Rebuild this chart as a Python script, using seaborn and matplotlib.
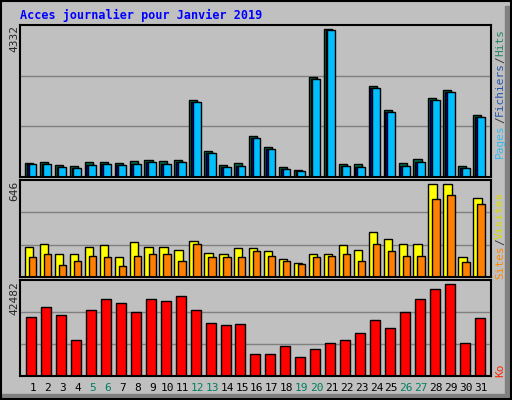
import matplotlib
matplotlib.use("Agg")
import matplotlib.pyplot as plt
import seaborn as sns
import numpy as np
from matplotlib.patches import Rectangle

days = [str(d) for d in range(1, 32)]
weekend = ["5", "6", "12", "13", "19", "20", "26", "27"]
hits = [411, 440, 354, 326, 440, 440, 411, 468, 497, 468, 497, 2190, 754, 354, 411, 1182,
        868, 297, 211, 2839, 4210, 383, 383, 2582, 1896, 411, 525, 2239, 2468, 326, 1754]
pages = [382, 383, 297, 268, 354, 383, 354, 383, 440, 383, 440, 2124, 697, 297, 326, 1125,
         811, 240, 183, 2782, 4180, 326, 297, 2525, 1839, 326, 440, 2182, 2411, 268, 1697]
files = pages
visits = [203, 223, 156, 156, 203, 210, 130, 230, 203, 203, 183, 243, 163, 156, 190, 190,
          170, 123, 96, 150, 150, 210, 183, 297, 250, 223, 223, 618, 618, 136, 525]
sites = [136, 156, 83, 109, 143, 130, 76, 143, 150, 150, 109, 217, 136, 130, 136, 172,
         143, 109, 89, 136, 143, 150, 109, 223, 176, 143, 143, 518, 545, 103, 484]
ko = [25900, 30340, 26790, 16130, 29010, 33890, 32120, 28120, 33890, 33000, 35220, 29010,
      23240, 22350, 22790, 9920, 9920, 13470, 8580, 12140, 14800, 16130, 19240, 24570,
      21460, 28120, 33890, 38330, 40550, 14800, 25460]
max_hits, max_visits, max_ko = 4332, 646, 42482

sns.set_style("white")
mono = "DejaVu Sans Mono"
W, H = 512, 400
fig = plt.figure(figsize=(5.12, 4.0), dpi=100, facecolor="#c0c0c0")
idx = np.arange(31)

def axrect(top, bottom):
    return [20 / W, 1 - bottom / H, (491 - 20) / W, (bottom - top) / H]

def style(ax, ymax):
    ax.set_facecolor("#c0c0c0")
    ax.set_xlim(-0.87, 30.65)
    ax.set_ylim(0, ymax)
    ax.set_yticks([ymax / 3, 2 * ymax / 3])
    ax.yaxis.grid(True, color="#808080", lw=1)
    ax.set_axisbelow(True)
    ax.set_yticklabels([])
    ax.tick_params(length=0)
    ax.set_xlabel(""); ax.set_ylabel("")
    ax.set_xticks([])
    for s in ax.spines.values():
        s.set_color("black"); s.set_linewidth(1.5)
    if ax.get_legend():
        ax.get_legend().remove()

def bars(ax, offset, width, vals, color):
    sns.barplot(x=idx + offset + width / 2, y=vals, native_scale=True, width=width,
                color=color, edgecolor="black", linewidth=1, ax=ax, saturation=1)

ax1 = fig.add_axes(axrect(25, 177))
bars(ax1, -0.54, 0.54, hits, "#006f4f")
bars(ax1, -0.42, 0.5, files, "#0000cc")
bars(ax1, -0.30, 0.52, pages, "#00bfff")
style(ax1, max_hits)

ax2 = fig.add_axes(axrect(180, 277))
bars(ax2, -0.54, 0.56, visits, "#ffff00")
bars(ax2, -0.27, 0.49, sites, "#ff8000")
style(ax2, max_visits)

ax3 = fig.add_axes(axrect(280, 376))
bars(ax3, -0.45, 0.67, ko, "#ff0000")
style(ax3, max_ko)

fs = 8
for i, d in enumerate(days):
    x = (33 + i * 14.93) / W
    fig.text(x, 1 - 388 / H, d, ha="center", va="center", fontsize=fs, family=mono,
             color="#007f5f" if d in weekend else "black")

for txt, top in [("4332", 25), ("646", 181), ("42482", 281)]:
    fig.text(14 / W, 1 - top / H, txt, rotation=90, ha="center", va="top", fontsize=fs,
             family=mono)

fig.text(20 / W, 1 - 15 / H, "Acces journalier pour Janvier 2019", ha="left", va="center",
         fontsize=8.5, family=mono, weight="bold", color="#0000ff")

x = 500 / W
for txt, yc, col in [("Pages", 141, "#33bbee"), ("/", 120, "#333333"), ("Fichiers", 89, "#2255aa"),
                     ("/", 60, "#333333"), ("Hits", 42, "#228866"),
                     ("Sites", 262, "#ff8800"), ("/", 242, "#333333"), ("Visites", 215, "#dddd00"),
                     ("Ko", 370, "#ff2200")]:
    fig.text(x, 1 - yc / H, txt, rotation=90, ha="center", va="center", fontsize=8,
             family=mono, color=col)

# frame and shadow
fig.patches.append(Rectangle((505 / W, 0), 7 / W, 1 - 6 / H, transform=fig.transFigure,
                             color="#808080", zorder=-1))
fig.patches.append(Rectangle((0, 0), 1, 6 / H, transform=fig.transFigure,
                             color="#808080", zorder=-1))
fig.patches.append(Rectangle((1 / W, 1 / H), 1 - 2 / W, 1 - 2 / H, transform=fig.transFigure,
                             fill=False, edgecolor="black", lw=1.5))
fig.savefig("out.png", dpi=100, facecolor=fig.get_facecolor())
